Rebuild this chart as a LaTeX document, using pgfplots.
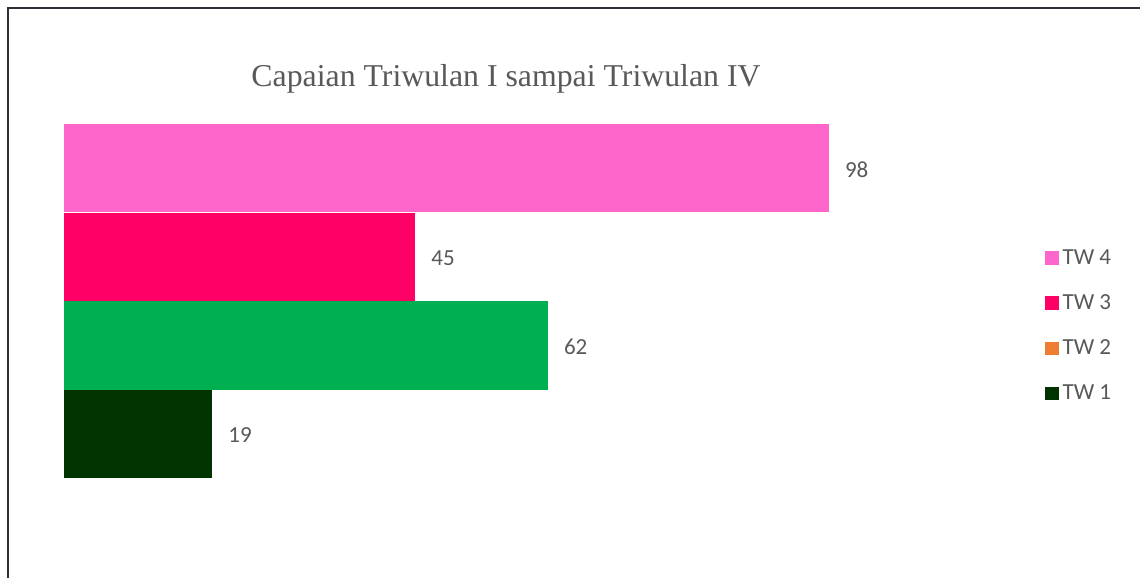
\documentclass[border=0pt]{standalone}
\usepackage{pgfplots}
\pgfplotsset{compat=1.18}
\usepackage{fontspec}
\setmainfont{Carlito}
\newfontfamily\titlefont{Liberation Serif}
\definecolor{twA}{HTML}{003300}
\definecolor{twB}{HTML}{00B050}
\definecolor{twBleg}{HTML}{ED7D31}
\definecolor{twC}{HTML}{FF0066}
\definecolor{twD}{HTML}{FF66CC}
\definecolor{txt}{HTML}{595959}
\definecolor{frame}{HTML}{2B2F36}
\begin{document}
\begin{tikzpicture}
\useasboundingbox (0pt,0pt) rectangle (570pt,-289pt);
\fill[white] (0pt,0pt) rectangle (570pt,-289pt);
\draw[frame, line width=1pt] (3.75pt,-289pt) -- (3.75pt,-3.75pt) -- (570pt,-3.75pt);
\node[text=txt, font=\titlefont\fontsize{15.9}{19}\selectfont] at (253pt,-39.5pt) {Capaian Triwulan I sampai Triwulan IV};
\begin{axis}[
  at={(32pt,-239pt)}, anchor=south west,
  scale only axis,
  x=3.903pt, y=44.25pt,
  xmin=0, xmax=98, ymin=0.5, ymax=4.5,
  hide axis, clip=false,
  xbar, bar width=44.25pt, bar shift=0pt,
  /pgf/number format/assume math mode=true,
  nodes near coords,
  every node near coord/.append style={text=txt, font=\fontsize{11.5}{13}\selectfont, anchor=west, xshift=4.5pt, yshift=-0.8pt},
  legend style={draw=none, fill=none, at={(1.274,0.43)}, anchor=west,
    font=\fontsize{11.5}{13}\selectfont, text=txt, row sep=9.6pt,
    /tikz/every even column/.append style={column sep=0pt}},
  legend cell align=left,
  legend image code/.code={\fill[#1, draw=none] (0pt,-3.4pt) rectangle (6.8pt,3.4pt);},
]
\addplot[fill=twA, draw=none, forget plot] coordinates {(19,1)};
\addplot[fill=twB, draw=none, forget plot] coordinates {(62,2)};
\addplot[fill=twC, draw=none, forget plot] coordinates {(45,3)};
\addplot[fill=twD, draw=none, forget plot] coordinates {(98,4)};
\addlegendimage{fill=twD, draw=none}
\addlegendentry{TW 4}
\addlegendimage{fill=twC, draw=none}
\addlegendentry{TW 3}
\addlegendimage{fill=twBleg, draw=none}
\addlegendentry{TW 2}
\addlegendimage{fill=twA, draw=none}
\addlegendentry{TW 1}
\end{axis}
\end{tikzpicture}
\end{document}
